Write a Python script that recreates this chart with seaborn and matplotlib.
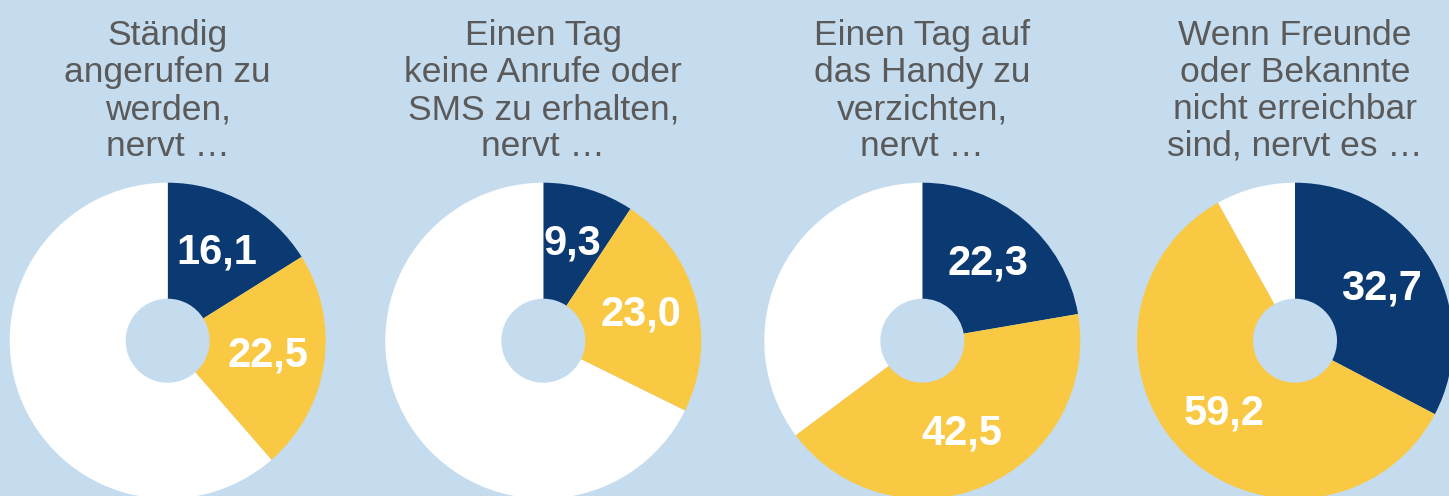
import matplotlib.pyplot as plt
import seaborn as sns
import numpy as np

titles = [
    ["Ständig", "angerufen zu", "werden,", "nervt …"],
    ["Einen Tag", "keine Anrufe oder", "SMS zu erhalten,", "nervt …"],
    ["Einen Tag auf", "das Handy zu", "verzichten,", "nervt …"],
    ["Wenn Freunde", "oder Bekannte", "nicht erreichbar", "sind, nervt es …"],
]
sehr_stark = [16.1, 9.3, 22.3, 32.7]
etwas = [22.5, 23.0, 42.5, 59.2]
gar_nicht = [61.4, 67.7, 35.2, 8.1]

bg = "#c5dcef"
farben = ["#0b3a72", "#f9c943", "#ffffff"]

sns.set_theme(style="white")
plt.rcParams['font.family'] = ['Liberation Sans', 'DejaVu Sans']

W, H = 1449, 496
fig = plt.figure(figsize=(W / 100, H / 100), dpi=100, facecolor=bg)
ax = fig.add_axes([0, 0, 1, 1])
ax.set_facecolor(bg)

# layout in pixels
centers_x = [167.7, 543.3, 922.3, 1295.0]
cy = H - 340.7
R = 158
hole = 42

def fmt(v):
    return f"{v:.1f}".replace('.', ',')

for i in range(4):
    cx = centers_x[i]
    vals = [sehr_stark[i], etwas[i], gar_nicht[i]]
    wedges, _ = ax.pie(vals, colors=farben, startangle=90, counterclock=False,
                       radius=R, center=(cx, cy), frame=True,
                       wedgeprops=dict(width=R - hole, linewidth=0))
    for w, v in zip(wedges[:2], vals[:2]):
        ang = np.deg2rad((w.theta1 + w.theta2) / 2)
        r = 0.64 * R
        ax.text(cx + r * np.cos(ang), cy + r * np.sin(ang), fmt(v),
                ha='center', va='center', color='white',
                fontsize=30, fontweight='bold')
    for k, line in enumerate(titles[i]):
        ax.text(cx, H - (45 + 37 * k), line, ha='center', va='baseline',
                fontsize=25.5, color='#5a5a5a')

ax.set_xlim(0, W)
ax.set_ylim(0, H)
ax.axis('off')

fig.savefig('out.png', dpi=100, facecolor=bg)
